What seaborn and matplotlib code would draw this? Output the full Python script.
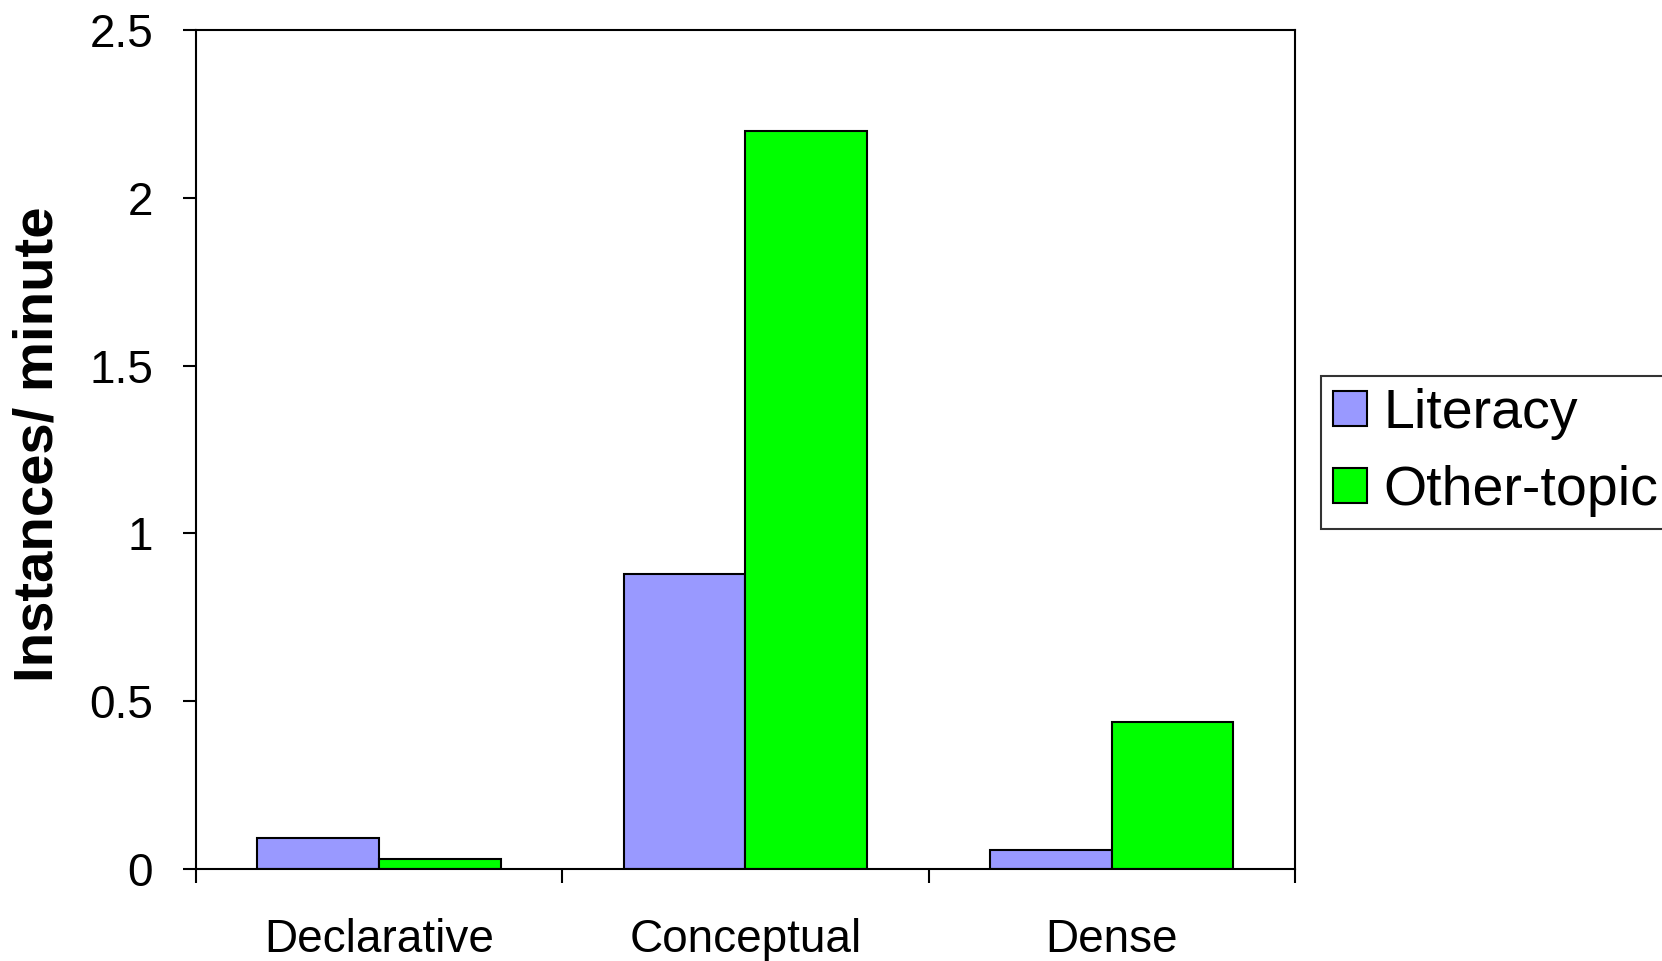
import matplotlib
matplotlib.use("Agg")
import matplotlib.pyplot as plt
from matplotlib.ticker import FixedLocator, NullFormatter
import seaborn as sns
import pandas as pd

# Rates of each explanation type, by lesson topic
categories = ["Declarative", "Conceptual", "Dense"]
literacy = [0.093, 0.88, 0.057]
other_topic = [0.029, 2.2, 0.437]
series_names = ["Literacy", "Other-topic"]
y_ticks = [0, 0.5, 1, 1.5, 2, 2.5]
y_tick_labels = ["0", "0.5", "1", "1.5", "2", "2.5"]

df = pd.DataFrame({
    "category": categories * 2,
    "value": literacy + other_topic,
    "series": [series_names[0]] * len(categories) + [series_names[1]] * len(categories),
})

sns.set_style("white")
plt.rcParams["font.family"] = ["Liberation Sans", "DejaVu Sans"]
plt.rcParams["text.color"] = "black"
plt.rcParams["axes.labelcolor"] = "black"
plt.rcParams["xtick.color"] = "black"
plt.rcParams["ytick.color"] = "black"

fig = plt.figure(figsize=(16.62, 9.61), dpi=100)
ax = fig.add_axes([0.1179, 0.0957, 0.6613, 0.8731])

sns.barplot(
    data=df, x="category", y="value", hue="series", ax=ax,
    order=categories, hue_order=series_names,
    palette=["#9999FF", "#00FF00"], width=0.664,
    edgecolor="black", linewidth=1.5, saturation=1,
)

ax.set_xlim(-0.5, 2.5)
ax.set_ylim(0, 2.5)
ax.set_yticks(y_ticks)
ax.set_yticklabels(y_tick_labels)

# Category boundaries carry the tick marks; names sit at category centres
ax.xaxis.set_major_locator(FixedLocator([-0.5, 0.5, 1.5, 2.5]))
ax.xaxis.set_major_formatter(NullFormatter())
ax.xaxis.set_minor_locator(FixedLocator([0, 1, 2]))
ax.set_xticklabels(categories, minor=True)
ax.tick_params(axis="x", which="major", direction="out", length=10, width=1.5,
               color="black", bottom=True)
ax.tick_params(axis="x", which="minor", length=0, pad=35, labelsize=33,
               labelcolor="black", bottom=True)
ax.tick_params(axis="y", direction="out", length=9.4, width=1.5, color="black",
               pad=21.5, labelsize=33, labelcolor="black", left=True)

for side in ["left", "right", "top", "bottom"]:
    ax.spines[side].set_visible(True)
    ax.spines[side].set_color("black")
    ax.spines[side].set_linewidth(1.5)

ax.set_xlabel("")
ax.set_ylabel("Instances/ minute", fontsize=40.5, fontweight="bold", color="black")
ax.yaxis.set_label_coords(-0.12, 0.5066)

handles, labels = ax.get_legend_handles_labels()
ax.legend_.remove()
leg = fig.legend(
    handles, labels, loc="upper left", bbox_to_anchor=(0.7948, 0.609),
    bbox_transform=fig.transFigure, borderaxespad=0, fontsize=40,
    frameon=True, fancybox=False, shadow=False, handlelength=0.61,
    handleheight=0.59, handletextpad=0.3, labelspacing=0.45, borderpad=0.22,
)
leg.get_frame().set_edgecolor("black")
leg.get_frame().set_linewidth(1.5)
for h in leg.legend_handles:
    h.set_edgecolor("black")
    h.set_linewidth(1.5)
for t in leg.get_texts():
    t.set_color("black")

fig.savefig("out.png", dpi=100)
